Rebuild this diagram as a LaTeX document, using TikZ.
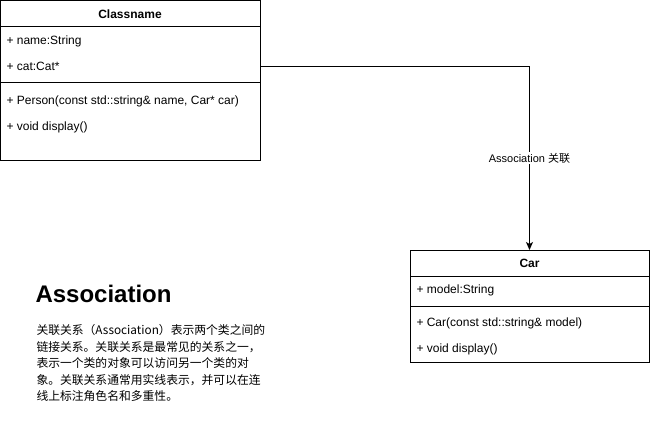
\documentclass[tikz,border=0pt]{standalone}
\usepackage{fontspec}
\setmainfont{Liberation Sans}
\newfontfamily\cjk{Noto Sans CJK SC}
\usepackage{tikz}
\usetikzlibrary{arrows.meta}

\begin{document}
\begin{tikzpicture}[x=1pt,y=-1pt,line width=1pt,
  box/.style={draw,inner sep=0pt,outer sep=0pt},
  row/.style={anchor=west,inner sep=0pt,font=\fontsize{12}{14}\selectfont},
  head/.style={inner sep=0pt,font=\fontsize{12}{14}\selectfont\bfseries}]
\useasboundingbox (0,0) rectangle (651,421);

  \node[box,minimum width=259.5pt,minimum height=159.5pt] (P) at (130.25,80.25) {};
  \node[head]          (PH) at (130,14)  {Classname};
  \node[row]           (PA0) at (6,41)   {+ name:String};
  \node[row]           (PA1) at (6,66)   {+ cat:Cat*};
  \node[row]           (PM0) at (6,101)  {+ Person(const std::string\& name, Car* car)};
  \node[row]           (PM1) at (6,127)  {+ void display()};
  \draw (0.5,26) -- (260,26);
  \draw (0.5,82) -- (260,82);

  \node[box,minimum width=239pt,minimum height=112pt] (C) at (529.5,306) {};
  \node[head]          (CH) at (529.5,263) {Car};
  \node[row]           (CA0) at (416,290)  {+ model:String};
  \node[row]           (CM0) at (416,323)  {+ Car(const std::string\& model)};
  \node[row]           (CM1) at (416,349)  {+ void display()};
  \draw (410,276) -- (649,276);
  \draw (410,306) -- (649,306);

  \draw[->,>={Stealth[length=8pt,width=7pt,inset=2pt]}] (P.east |- PA1) -| node[pos=0.75,fill=white,inner sep=1pt,
        font=\fontsize{11}{13}\selectfont] {Association {\cjk 关联}} (C.north);

  \node[anchor=base west,inner sep=0pt,font=\fontsize{24}{28}\selectfont\bfseries]
        (T) at (35,302) {Association};
  \node[anchor=north west,inner sep=0pt,align=left,
        font=\cjk\fontsize{11.8}{16.5}\selectfont] (D) at (36,324)
        {关联关系（Association）表示两个类之间的\\
         链接关系。关联关系是最常见的关系之一，\\
         表示一个类的对象可以访问另一个类的对\\
         象。关联关系通常用实线表示，并可以在连\\
         线上标注角色名和多重性。};
\end{tikzpicture}
\end{document}
